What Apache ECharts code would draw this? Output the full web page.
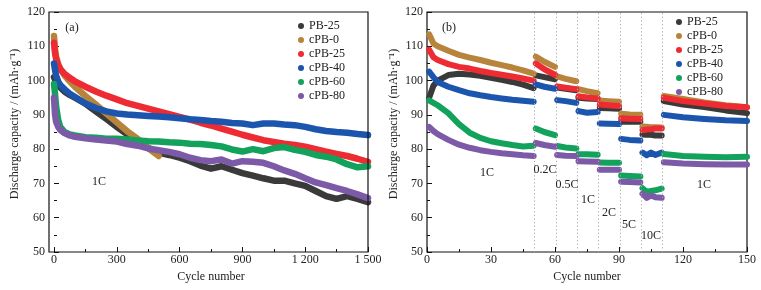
<!DOCTYPE html>
<html><head><meta charset="utf-8">
<script src="https://cdn.jsdelivr.net/npm/echarts@6/dist/echarts.min.js"></script>
<style>html,body{margin:0;padding:0;background:#fff}#c{width:761px;height:290px}</style>
</head><body><div id="c"></div>
<script>
// ---------- data ----------
const seriesNames = ['PB-25', 'cPB-0', 'cPB-25', 'cPB-40', 'cPB-60', 'cPB-80'];

// (a) long cycling at 1C
const cyclesA = [0,5,10,20,30,50,75,100,150,200,250,300,350,400,450,500,550,600,650,700,750,800,850,900,950,1000,1050,1100,1150,1200,1250,1300,1350,1400,1450,1500];
const capA_PB25  = [101,100.3,99.7,98.8,98,96.8,95.8,95,93.3,91,88.8,86.5,84.3,82.2,80.3,79,78.3,77.5,76.5,75.2,74.3,75,74,73,72.3,71.5,70.8,70.8,70,69.3,67.8,66.3,65.5,66.3,65.5,64.5];
const capA_cPB0  = [113,109,107,104.8,103.5,101.5,99.8,98.2,95.5,93,90.4,87.8,85.2,83,80.3,78];
const capA_cPB25 = [111,108,106.3,104.5,103.3,102,100.8,99.8,98.2,96.8,95.6,94.5,93.4,92.6,91.8,91,90.2,89.4,88.6,87.7,86.9,86,85.1,84.2,83.4,82.6,82.1,81.6,81.2,80.7,80,79.3,78.6,78,77.2,76.3];
const capA_cPB40 = [105,103,101.5,99.7,98.7,97.5,96.2,95.2,93.3,92,91,90.4,90.1,89.9,89.7,89.5,89.3,89,88.7,88.5,88.2,88,87.6,87.5,87,87.5,87.5,87.2,87,86.5,85.8,85.3,85,84.8,84.4,84.1];
const capA_cPB60 = [99,96,92.5,88.5,86.5,85,84.3,84,83.5,83.3,83,83,82.8,82.5,82.3,82.2,82,81.9,81.6,81.5,81.2,80.8,79.9,79.3,80,79.4,80.3,80.6,79.8,79.2,78.3,77.8,77,75.6,74.7,75];
const capA_cPB80 = [95,90,88,86.5,85.6,84.7,84,83.6,83.2,82.8,82.5,82.2,81.5,81,80.2,79.7,79.2,78.5,77.5,76.8,76.5,77,75.8,76.5,76.3,76,75,73.8,72.8,71.5,70.3,69.5,68.6,67.8,66.8,65.7];

// (b) rate capability (null = break between rate steps)
const cyclesB = [1,3,5,10,15,20,25,30,35,40,45,50,null,51,55,60,null,61,65,70,null,71,75,80,null,81,85,90,null,91,95,100,null,101,103,105,107,110,null,111,120,130,140,150];
const capB_PB25  = [95,98.5,100,101.6,102,101.8,101.4,100.8,100.2,99.6,98.8,97.8,null,101.5,101,100.4,null,98,97.6,97.2,null,95,94.8,94.6,null,92,91.9,91.8,null,88,88,88,null,84.3,84.2,84.2,84,84,null,94,93,92.3,91.3,90.5];
const capB_cPB0  = [113.5,110.8,110,108.7,107.5,106.7,106,105.2,104.5,103.8,103,102,null,107,105.5,104,null,101.2,100.5,99.8,null,97.5,96.9,96.3,null,94.2,94,93.8,null,90.3,90.1,90,null,86.6,86.5,86.4,86.4,86.3,null,95.5,94.6,93.6,92.8,92.2];
const capB_cPB25 = [109,106.8,106,104.8,104,103.5,102.8,102.2,101.7,101.2,100.6,100,null,105,103.3,101.7,null,98.3,97.9,97.5,null,95.4,95.1,94.8,null,93,92.8,92.6,null,89,88.9,88.8,null,85.5,85.7,85.8,86,86,null,95,94,93.3,92.6,92.2];
const capB_cPB40 = [102.6,101,99.6,98.2,97.2,96.3,95.7,95.2,94.8,94.4,94.1,93.8,null,98.9,98.2,97.6,null,94.3,94,93.5,null,91.1,90.6,90.8,null,87.5,87.4,87.3,null,83,82.7,82.5,null,79,78.2,79,78.3,79,null,90,89.3,88.8,88.4,88.2];
const capB_cPB60 = [94.2,93.5,92.8,90.5,87.3,84.8,83.3,82.3,81.7,81.2,80.8,81,null,86,85,84.1,null,80.9,80.5,80.2,null,78.5,78.5,78.4,null,76.1,76,76,null,72.3,72.2,72,null,68.6,67.5,67.8,68,68.5,null,78.6,78,77.8,77.6,77.8];
const capB_cPB80 = [86.5,85.3,84.4,82.7,81.3,80.4,79.7,79.2,78.8,78.5,78.2,78,null,81.8,81.2,80.7,null,78.3,78.1,78,null,76.5,76.4,76.3,null,74,74,74,null,70.5,70.4,70.3,null,67,65.8,66.5,66,65.8,null,76.2,75.8,75.6,75.5,75.5];

const rateBoundaries = [50.5, 60.5, 70.5, 80.5, 90.5, 100.5, 110.5];
const rateLabels = ['1C', '0.2C', '0.5C', '1C', '2C', '5C', '10C', '1C'];
const panelLabels = ['(a)', '(b)'];

// ---------- styling ----------
const colors = ['#3a3a3a', '#b8843c', '#ee2b33', '#1b55ad', '#12a25c', '#7c5aa8'];
const FONT = '"Liberation Serif", "Times New Roman", serif';
const TXT = '#222';
const rateLabelPos = [[487,173],[545,170],[567,185],[588,200],[609,213],[629,225],[651,236],[704,185]];

const capA = [capA_PB25, capA_cPB0, capA_cPB25, capA_cPB40, capA_cPB60, capA_cPB80];
const capB = [capB_PB25, capB_cPB0, capB_cPB25, capB_cPB40, capB_cPB60, capB_cPB80];

function pairs(xs, ys) {
  const out = [];
  for (let i = 0; i < ys.length; i++) {
    if (xs[i] === null || ys[i] === null) out.push(['-', '-']);
    else out.push([xs[i], ys[i]]);
  }
  return out;
}

const fmtX = v => v >= 1000 ? String(v).replace(/^(\d)(\d{3})$/, '$1 $2') : String(v);

function xAx(gi, max, interval, fmt) {
  return {
    type: 'value', gridIndex: gi, min: 0, max: max, interval: interval,
    axisLine: { show: false },
    axisTick: { show: true, inside: true, length: 5, lineStyle: { color: '#111', width: 1 } },
    minorTick: { show: true, splitNumber: 2, length: 3, lineStyle: { color: '#111', width: 1 } },
    splitLine: { show: false },
    axisLabel: { margin: 2, fontSize: 12, fontFamily: FONT, color: TXT, formatter: fmt },
    name: 'Cycle number', nameLocation: 'middle', nameGap: 19,
    nameTextStyle: { fontSize: 12, fontFamily: FONT, color: TXT }
  };
}
function yAx(gi, offset, nameGap) {
  return {
    type: 'value', gridIndex: gi, min: 50, max: 120, interval: 10, offset: offset,
    axisLine: { show: false },
    axisTick: { show: true, inside: true, length: 5, lineStyle: { color: '#111', width: 1 } },
    minorTick: { show: true, splitNumber: 2, length: 3, lineStyle: { color: '#111', width: 1 } },
    splitLine: { show: false },
    axisLabel: { margin: 4, fontSize: 12, fontFamily: FONT, color: TXT },
    name: 'Discharge capacity / (mAh·g⁻¹)', nameLocation: 'middle', nameGap: nameGap,
    nameTextStyle: { fontSize: 12, fontFamily: FONT, color: TXT, padding: [0, 0, 0, 16] }
  };
}
function legend(left, top) {
  return {
    data: seriesNames, orient: 'vertical', left: left, top: top, padding: 0,
    itemWidth: 6, itemHeight: 6, itemGap: 2, icon: 'circle',
    textStyle: { fontSize: 12, fontFamily: FONT, color: TXT, lineHeight: 12 }
  };
}

const series = [];
seriesNames.forEach((n, i) => {
  series.push({
    name: n, type: 'line', xAxisIndex: 0, yAxisIndex: 0, data: pairs(cyclesA, capA[i]),
    showSymbol: false, symbol: 'circle', color: colors[i],
    lineStyle: { width: 6.5, cap: 'round', join: 'round', color: colors[i] }
  });
});
seriesNames.forEach((n, i) => {
  const s = {
    name: n, type: 'line', xAxisIndex: 1, yAxisIndex: 1, data: pairs(cyclesB, capB[i]),
    showSymbol: false, symbol: 'circle', color: colors[i], connectNulls: false,
    lineStyle: { width: 6, cap: 'round', join: 'round', color: colors[i] }
  };
  if (i === 0) {
    s.markLine = {
      silent: true, symbol: ['none', 'none'], label: { show: false }, animation: false,
      lineStyle: { type: [1.2, 2.4], color: '#aaa', width: 1 },
      data: rateBoundaries.map(x => ({ xAxis: x }))
    };
  }
  series.push(s);
});

const graphics = [
  { type: 'rect', z: 100, silent: true, shape: { x: 49, y: 12, width: 319, height: 240 },
    style: { fill: 'none', stroke: '#111', lineWidth: 1.2 } },
  { type: 'text', z: 100, x: 72, y: 28, style: { text: panelLabels[0], font: '12px ' + FONT, fill: TXT, textAlign: 'center', textVerticalAlign: 'middle', align: 'center', verticalAlign: 'middle' } },
  { type: 'text', z: 100, x: 449, y: 28, style: { text: panelLabels[1], font: '12px ' + FONT, fill: TXT, textAlign: 'center', textVerticalAlign: 'middle', align: 'center', verticalAlign: 'middle' } },
  { type: 'text', z: 100, x: 99, y: 182, style: { text: rateLabels[0], font: '12px ' + FONT, fill: TXT, textAlign: 'center', textVerticalAlign: 'middle', align: 'center', verticalAlign: 'middle' } }
];
rateLabels.forEach((t, i) => {
  graphics.push({ type: 'text', z: 100, x: rateLabelPos[i][0], y: rateLabelPos[i][1],
    style: { text: t, font: '12px ' + FONT, fill: TXT, textAlign: 'center', textVerticalAlign: 'middle', align: 'center', verticalAlign: 'middle' } });
});

const chart = echarts.init(document.getElementById('c'), null, { renderer: 'canvas' });
chart.setOption({
  animation: false,
  backgroundColor: '#fff',
  grid: [
    { left: 54, top: 12, width: 314, height: 240 },
    { left: 427, top: 12, width: 320, height: 240, show: true, borderColor: '#111', borderWidth: 1.2, backgroundColor: 'transparent' }
  ],
  xAxis: [xAx(0, 1500, 300, fmtX), xAx(1, 150, 30, v => String(v))],
  yAxis: [yAx(0, 5, 28), yAx(1, 0, 27)],
  legend: [legend(298, 20), legend(676, 16)],
  series: series,
  graphic: graphics
});
</script>
</body></html>
